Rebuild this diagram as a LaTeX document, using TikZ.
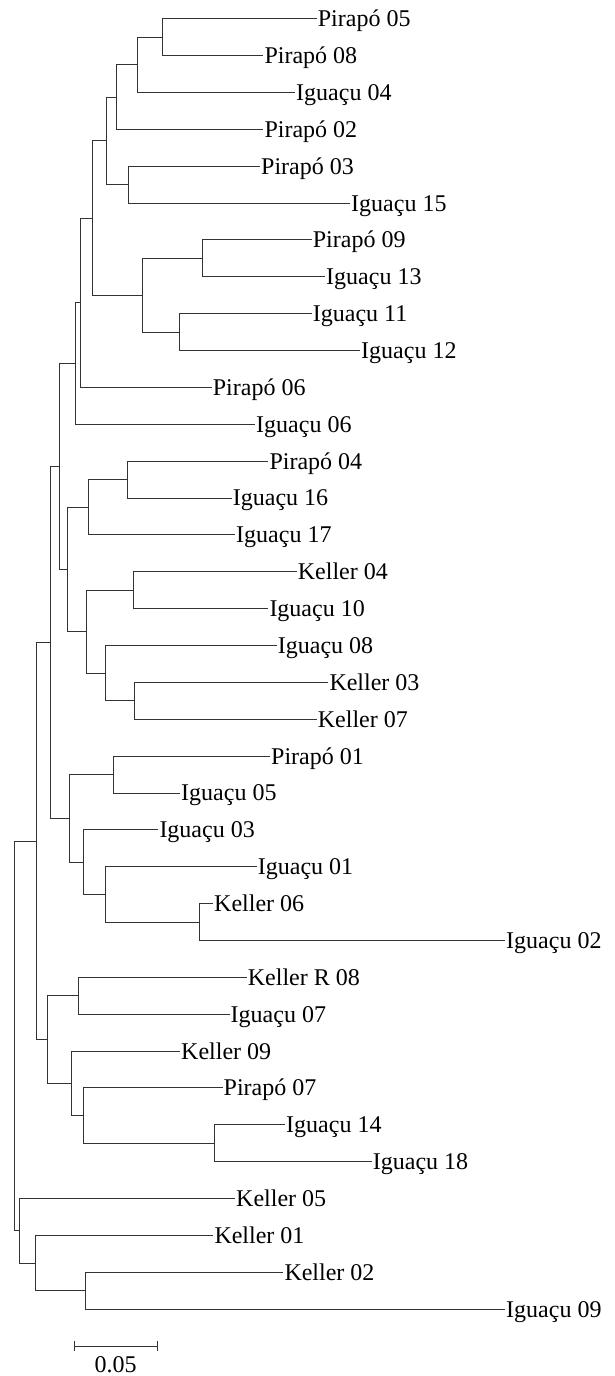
\documentclass[tikz,border=0pt]{standalone}
\usepackage{fontspec}
\setmainfont{Liberation Serif}
\usepackage{tikz}

\tikzset{
  leaf/.style={anchor=west, inner sep=1pt, text height=15.8pt, text depth=0pt,
    font=\fontsize{24}{28}\selectfont},
  branch/.style={draw=black!80, line width=0.9pt}
}

\begin{document}
\begin{tikzpicture}[x=1pt,y=-1pt]
\useasboundingbox (0,0) rectangle (614,1376);
% leaves
\path (316.7,18.7) node[leaf](p05) {Pirapó 05}
(263.3,55.6) node[leaf](p08) {Pirapó 08}
(295,92.4) node[leaf](i04) {Iguaçu 04}
(263.3,129.3) node[leaf](p02) {Pirapó 02}
(260,166.2) node[leaf](p03) {Pirapó 03}
(350,203.1) node[leaf](i15) {Iguaçu 15}
(311.7,239.9) node[leaf](p09) {Pirapó 09}
(325,276.8) node[leaf](i13) {Iguaçu 13}
(311.7,313.7) node[leaf](i11) {Iguaçu 11}
(360,350.5) node[leaf](i12) {Iguaçu 12}
(211.7,387.4) node[leaf](p06) {Pirapó 06}
(255,424.3) node[leaf](i06) {Iguaçu 06}
(268.3,461.1) node[leaf](p04) {Pirapó 04}
(231.7,498.0) node[leaf](i16) {Iguaçu 16}
(235,534.9) node[leaf](i17) {Iguaçu 17}
(296.7,571.8) node[leaf](k04) {Keller 04}
(268.3,608.6) node[leaf](i10) {Iguaçu 10}
(276.7,645.5) node[leaf](i08) {Iguaçu 08}
(328.3,682.4) node[leaf](k03) {Keller 03}
(316.7,719.2) node[leaf](k07) {Keller 07}
(270,756.1) node[leaf](p01) {Pirapó 01}
(180,793.0) node[leaf](i05) {Iguaçu 05}
(158.3,829.8) node[leaf](i03) {Iguaçu 03}
(256.7,866.7) node[leaf](i01) {Iguaçu 01}
(213,903.6) node[leaf](k06) {Keller 06}
(505,940.5) node[leaf](i02) {Iguaçu 02}
(246.7,977.3) node[leaf](kr08) {Keller R 08}
(229.5,1014.2) node[leaf](i07) {Iguaçu 07}
(180,1051.1) node[leaf](k09) {Keller 09}
(222.5,1087.9) node[leaf](p07) {Pirapó 07}
(285,1124.8) node[leaf](i14) {Iguaçu 14}
(371.7,1161.7) node[leaf](i18) {Iguaçu 18}
(235,1198.5) node[leaf](k05) {Keller 05}
(213.3,1235.4) node[leaf](k01) {Keller 01}
(283.3,1272.3) node[leaf](k02) {Keller 02}
(505,1309.1) node[leaf](i09) {Iguaçu 09};
% internal nodes
\path (162.7,37.2) coordinate(n1)
(137,64.8) coordinate(n2)
(116.3,97.0) coordinate(n3)
(128.3,184.6) coordinate(n4)
(106.3,140.8) coordinate(n5)
(202,258.4) coordinate(n6)
(179.7,332.1) coordinate(n7)
(142,295.2) coordinate(n8)
(92.7,218.0) coordinate(n9)
(80.7,302.7) coordinate(n10)
(75.7,363.5) coordinate(n11)
(127,479.6) coordinate(n12)
(88,507.2) coordinate(n13)
(133.3,590.2) coordinate(n14)
(134.7,700.8) coordinate(n15)
(105,673.2) coordinate(n16)
(86.7,631.7) coordinate(n17)
(67.3,569.5) coordinate(n18)
(59.7,466.5) coordinate(n19)
(113.7,774.6) coordinate(n20)
(199.7,922.0) coordinate(n21)
(105,894.4) coordinate(n22)
(83,862.1) coordinate(n23)
(69.7,818.4) coordinate(n24)
(50,642.5) coordinate(n25)
(78.3,995.8) coordinate(n26)
(214.7,1143.3) coordinate(n27)
(83,1115.6) coordinate(n28)
(71,1083.4) coordinate(n29)
(47,1039.6) coordinate(n30)
(36.3,841.1) coordinate(n31)
(85.7,1290.7) coordinate(n32)
(35,1263.1) coordinate(n33)
(19,1230.8) coordinate(n34)
(14.3,1036.0) coordinate(root);
% branches
\draw[branch] (n1) |- (p05); \draw[branch] (n1) |- (p08);
\draw[branch] (n2) |- (n1); \draw[branch] (n2) |- (i04);
\draw[branch] (n3) |- (n2); \draw[branch] (n3) |- (p02);
\draw[branch] (n4) |- (p03); \draw[branch] (n4) |- (i15);
\draw[branch] (n5) |- (n3); \draw[branch] (n5) |- (n4);
\draw[branch] (n6) |- (p09); \draw[branch] (n6) |- (i13);
\draw[branch] (n7) |- (i11); \draw[branch] (n7) |- (i12);
\draw[branch] (n8) |- (n6); \draw[branch] (n8) |- (n7);
\draw[branch] (n9) |- (n5); \draw[branch] (n9) |- (n8);
\draw[branch] (n10) |- (n9); \draw[branch] (n10) |- (p06);
\draw[branch] (n11) |- (n10); \draw[branch] (n11) |- (i06);
\draw[branch] (n12) |- (p04); \draw[branch] (n12) |- (i16);
\draw[branch] (n13) |- (n12); \draw[branch] (n13) |- (i17);
\draw[branch] (n14) |- (k04); \draw[branch] (n14) |- (i10);
\draw[branch] (n15) |- (k03); \draw[branch] (n15) |- (k07);
\draw[branch] (n16) |- (i08); \draw[branch] (n16) |- (n15);
\draw[branch] (n17) |- (n14); \draw[branch] (n17) |- (n16);
\draw[branch] (n18) |- (n13); \draw[branch] (n18) |- (n17);
\draw[branch] (n19) |- (n11); \draw[branch] (n19) |- (n18);
\draw[branch] (n20) |- (p01); \draw[branch] (n20) |- (i05);
\draw[branch] (n21) |- (k06); \draw[branch] (n21) |- (i02);
\draw[branch] (n22) |- (i01); \draw[branch] (n22) |- (n21);
\draw[branch] (n23) |- (i03); \draw[branch] (n23) |- (n22);
\draw[branch] (n24) |- (n20); \draw[branch] (n24) |- (n23);
\draw[branch] (n25) |- (n19); \draw[branch] (n25) |- (n24);
\draw[branch] (n26) |- (kr08); \draw[branch] (n26) |- (i07);
\draw[branch] (n27) |- (i14); \draw[branch] (n27) |- (i18);
\draw[branch] (n28) |- (p07); \draw[branch] (n28) |- (n27);
\draw[branch] (n29) |- (k09); \draw[branch] (n29) |- (n28);
\draw[branch] (n30) |- (n26); \draw[branch] (n30) |- (n29);
\draw[branch] (n31) |- (n25); \draw[branch] (n31) |- (n30);
\draw[branch] (n32) |- (k02); \draw[branch] (n32) |- (i09);
\draw[branch] (n33) |- (k01); \draw[branch] (n33) |- (n32);
\draw[branch] (n34) |- (k05); \draw[branch] (n34) |- (n33);
\draw[branch] (root) |- (n31); \draw[branch] (root) |- (n34);
% scale bar
\path (74,1346) coordinate(s1) (157,1346) coordinate(s2)
(115.5,1372) node[anchor=base, inner sep=0pt, font=\fontsize{24}{28}\selectfont](scale) {0.05};
\draw[branch] (s1) -- (s2);
\draw[branch] ([yshift=5pt]s1) -- ([yshift=-5pt]s1);
\draw[branch] ([yshift=5pt]s2) -- ([yshift=-5pt]s2);
\end{tikzpicture}
\end{document}
